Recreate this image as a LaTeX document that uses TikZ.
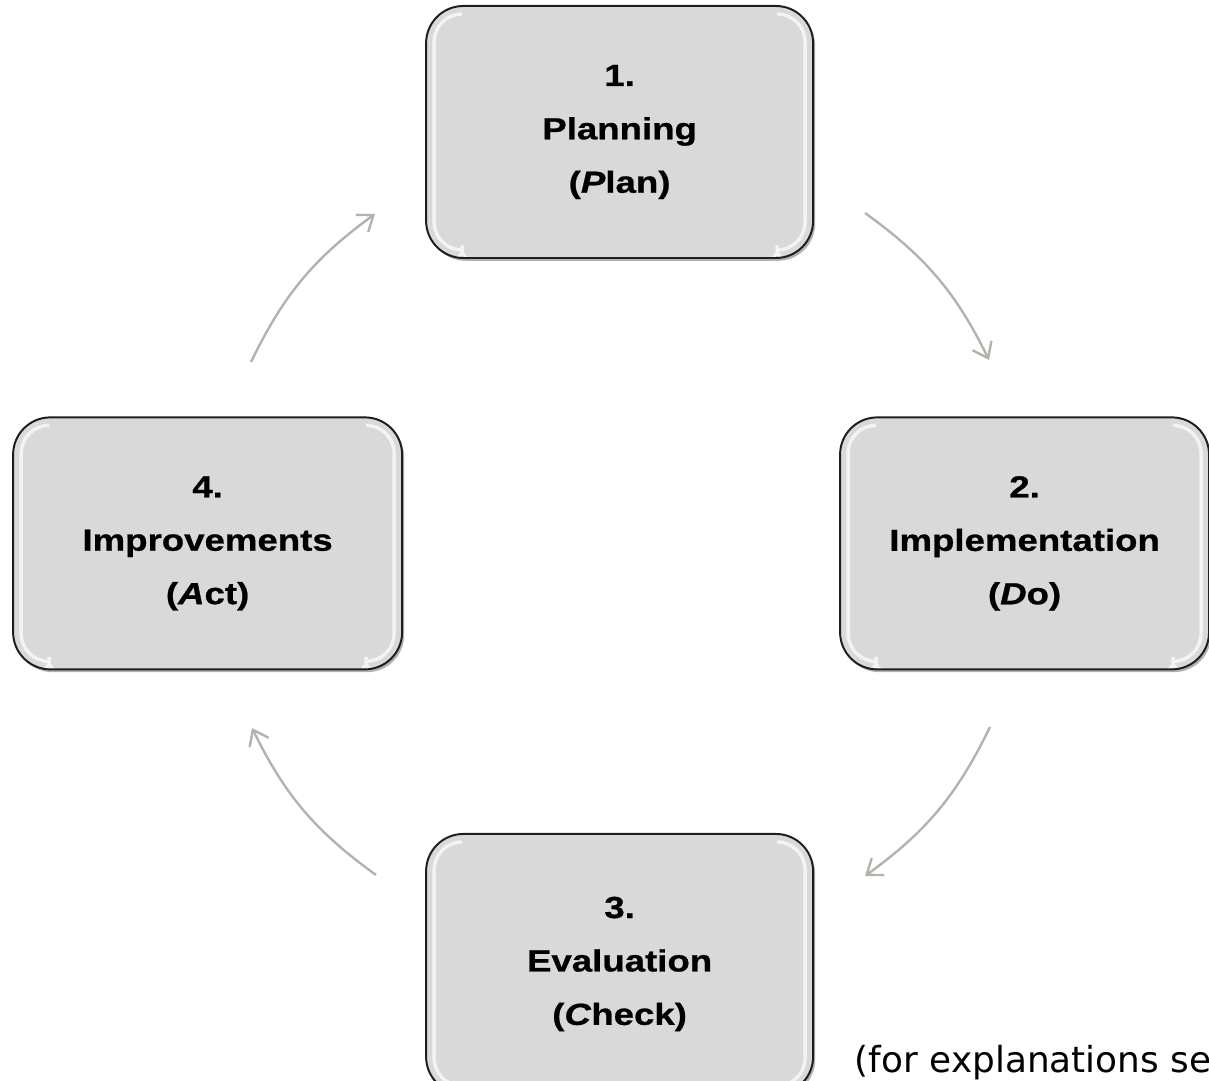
\documentclass[tikz,border=0pt]{standalone}
\usepackage{fontspec}
\setmainfont{Liberation Sans}
\newfontfamily\boxfont[FakeStretch=1.2, BoldFeatures={FakeBold=0.8}, BoldItalicFeatures={FakeBold=0.8}]{Liberation Sans}
\newfontfamily\notefont{DejaVu Sans}
\usepackage{tikz}
\usetikzlibrary{arrows.meta,positioning,shadows}
\definecolor{boxgray}{RGB}{217,217,217}
\definecolor{rimgray}{RGB}{30,30,30}
\definecolor{arrowgray}{RGB}{181,178,174}

\tikzset{
	glint/.style={draw=white, line width=2.4pt, opacity=.7, rounded corners=.7cm},
	stage/.style={draw=rimgray, line width=1.4pt, fill=boxgray, rounded corners=.93cm,
		minimum width=9.675cm, minimum height=6.3cm, align=center,
		font=\boxfont\bfseries\fontsize{21.7}{38}\selectfont,
		drop shadow={shadow xshift=1.5pt, shadow yshift=-2pt, opacity=.3, fill=black},
		path picture={
			\draw[glint] ([xshift=.9cm,yshift=-.2cm]path picture bounding box.north west)
				-- ([xshift=.2cm,yshift=-.2cm]path picture bounding box.north west)
				-- ([xshift=.2cm,yshift=.2cm]path picture bounding box.south west)
				-- ([xshift=.9cm,yshift=.2cm]path picture bounding box.south west);
			\draw[glint] ([xshift=-.9cm,yshift=-.2cm]path picture bounding box.north east)
				-- ([xshift=-.2cm,yshift=-.2cm]path picture bounding box.north east)
				-- ([xshift=-.2cm,yshift=.2cm]path picture bounding box.south east)
				-- ([xshift=-.9cm,yshift=.2cm]path picture bounding box.south east);
		}},
	flow/.style={draw=arrowgray, line width=1.7pt, bend left=14}
}

\begin{document}
\begin{tikzpicture}[->,>={Straight Barb[length=10pt,width=15pt]}]
\useasboundingbox (0,0) rectangle (30.225,27.025);

\node	[stage]	(plan)	at (15.49,23.725)	{1.\\Planning\\(\textit{P}lan)};
\node	[stage, minimum height=6.5cm]	(check)	[below=14.35cm of plan]	{3.\\Evaluation\\(\textit{C}heck)};
\node	[stage, minimum width=9.725cm]	(act)	at (5.19,13.44)	{4.\\Improvements\\(\textit{A}ct)};
\node	[stage, minimum width=9.225cm]	(do)	[right=10.9cm of act]	{2.\\Implementation\\(\textit{D}o)};

\node	[anchor=base west, font=\notefont\fontsize{25.5}{30}\selectfont]	(note)	at (21.25,0.2)	{(for explanations se};

% ends of the cycle arrows
\coordinate	(pd1)	at (21.625,21.7);
\coordinate	(pd2)	at (24.725,18.025);
\coordinate	(dc1)	at (24.75,8.85);
\coordinate	(dc2)	at (21.625,5.125);
\coordinate	(ca1)	at (9.4,5.15);
\coordinate	(ca2)	at (6.3,8.825);
\coordinate	(ap1)	at (6.275,17.975);
\coordinate	(ap2)	at (9.375,21.675);

\path
	(pd1)	edge	[flow]	(pd2)
	(dc1)	edge	[flow]	(dc2)
	(ca1)	edge	[flow]	(ca2)
	(ap1)	edge	[flow]	(ap2)
;
\end{tikzpicture}
\end{document}
